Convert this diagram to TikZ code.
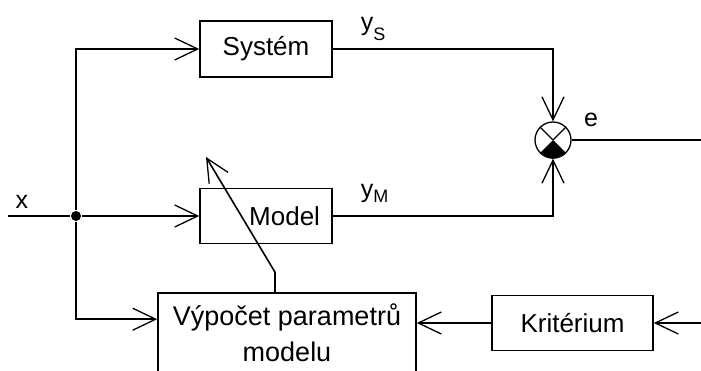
\documentclass[tikz,border=0pt]{standalone}
\usepackage{fontspec}
\setmainfont{Liberation Sans}
\usetikzlibrary{arrows.meta,calc}
\begin{document}
\begin{tikzpicture}[x=1pt,y=-1pt,
  line width=1.6pt,
  blk/.style={draw, rectangle, line width=1.6pt, inner sep=0pt, font=\fontsize{26}{36}\selectfont},
  lbl/.style={font=\fontsize{25}{30}\selectfont, inner sep=0pt},
  arr/.style={-{Straight Barb[length=23pt,width=22pt,line width=1.3pt]}},
  jdot/.style={circle, fill, inner sep=0pt, minimum size=10pt},
  sumc/.style={draw, circle, minimum size=36pt, inner sep=0pt, line width=1.3pt}
]
\useasboundingbox (0,0) rectangle (701,370);
\clip (0,0) rectangle (701,370);
% blocks
\node[blk, minimum width=132pt, minimum height=56pt] (sys) at (266,49) {Systém};
\node[blk, minimum width=132pt, minimum height=55pt, text width=108pt, align=right, inner xsep=12pt] (mod) at (266,216) {Model};
\node[blk, minimum width=258pt, minimum height=80pt, align=center, font=\fontsize{27}{36}\selectfont] (calc) at (287,333) {Výpočet parametrů\\modelu};
\node[blk, minimum width=161pt, minimum height=55pt] (krit) at (572.5,323) {Kritérium};
\node[sumc] (sum) at (553,140) {};
\node[jdot] (j) at (76,216) {};
% sum symbol interior
\draw[line width=1.2pt] (sum.center) -- (sum.135);
\draw[line width=1.2pt] (sum.center) -- (sum.45);
\fill (sum.center) -- (sum.-135) -- (sum.-120) -- (sum.-105) -- (sum.-90) -- (sum.-75) -- (sum.-60) -- (sum.-45) -- cycle;
% free ends
\coordinate (xin) at (8,216);
\coordinate (eout) at (701,140);
\coordinate (kin) at (701,323);
\coordinate (adj) at (206,157);
\coordinate (cup) at ($(calc.north)+(-12,0)$);
% connectors
\draw (xin) -- (j);
\draw[arr] (j) -- (mod.west);
\draw[arr] (j) |- (sys.west);
\draw[arr] (j) |- ($(calc.north west)+(0,27)$);
\draw[arr] (sys.east) -| (sum.north);
\draw[arr] (mod.east) -| (sum.south);
\draw (sum.east) -- (eout);
\draw[arr] (kin) -- (krit.east);
\draw[arr] (krit.west) -- (krit.west -| calc.east);
\draw[arr] (cup) -- ++(0,-20) -- (adj);
% labels
\node[lbl] (lx) at (22,202) {x};
\node[lbl, anchor=base west] (lys) at (360,30) {y\raisebox{-10pt}{\fontsize{18}{20}\selectfont S}};
\node[lbl, anchor=base west] (lym) at (360,197) {y\raisebox{-5pt}{\fontsize{18}{20}\selectfont M}};
\node[lbl] (le) at (591,120) {e};
\end{tikzpicture}
\end{document}
